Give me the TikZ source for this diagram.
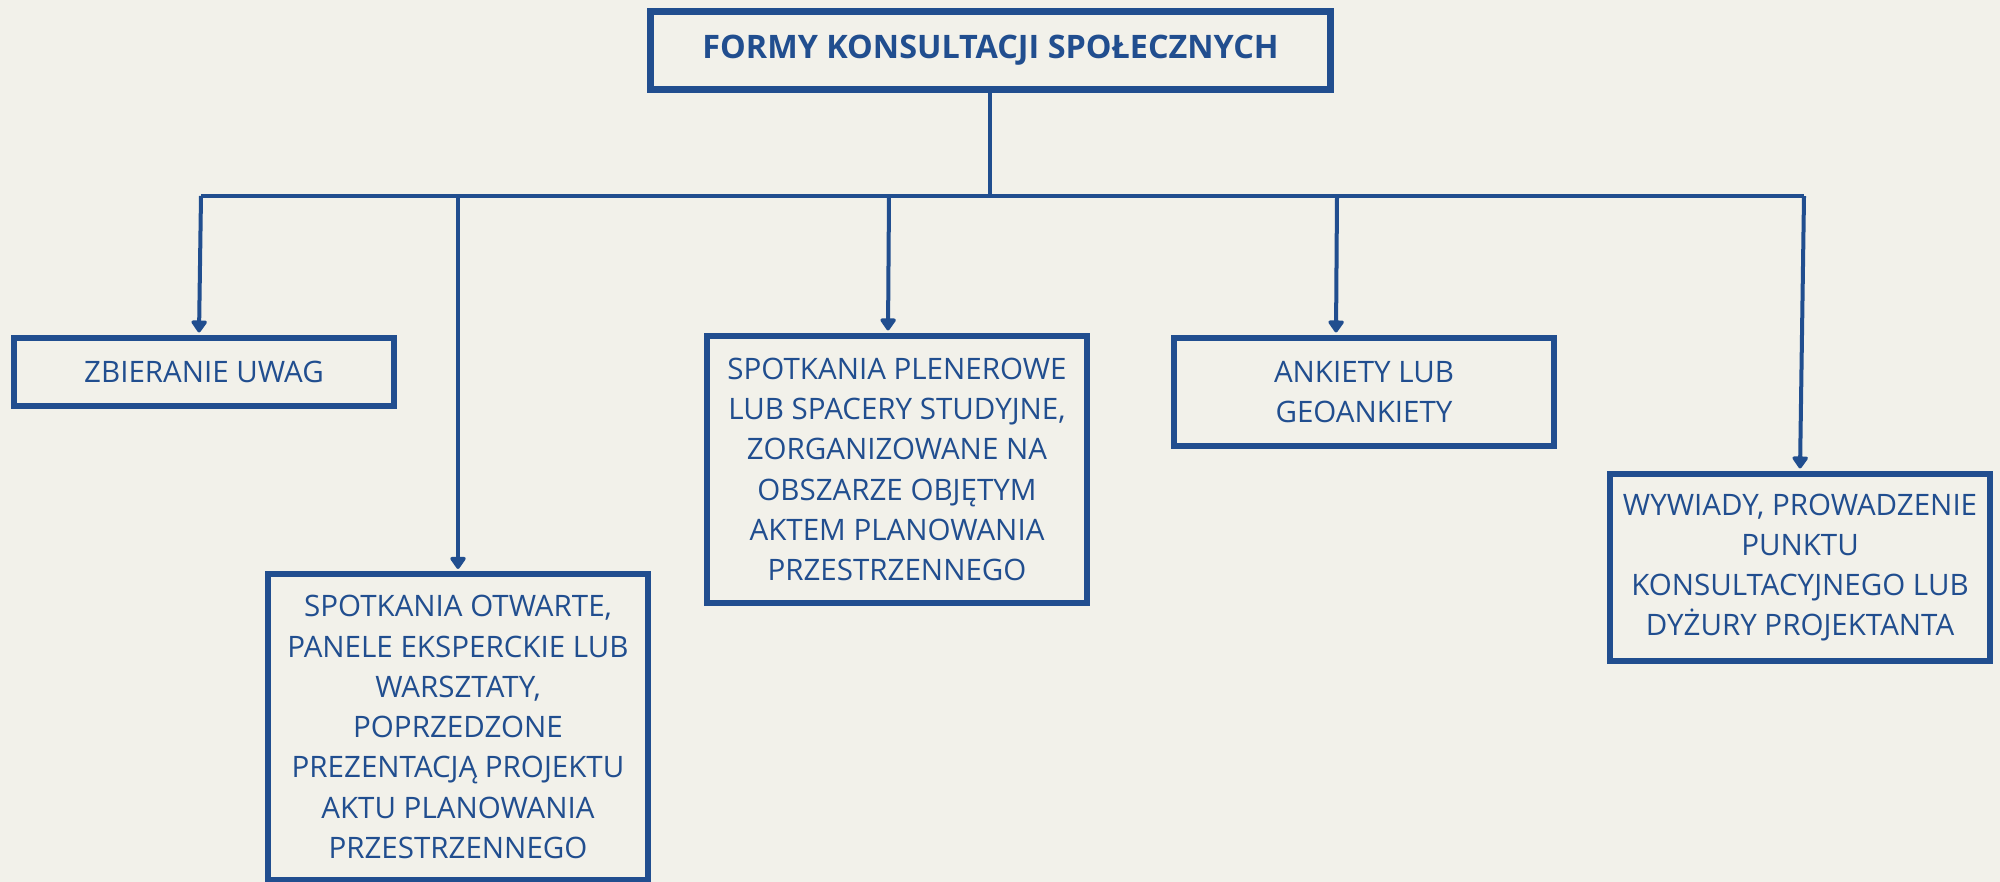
\documentclass[tikz,border=0pt]{standalone}
\usepackage{fontspec}
\setmainfont{Open Sans}
\usetikzlibrary{arrows.meta,calc}
\definecolor{bg}{HTML}{F2F1EA}
\definecolor{navy}{HTML}{214E8F}
\begin{document}
\begin{tikzpicture}[x=0.01cm,y=-0.01cm,
  box/.style={draw=navy,line width=6*0.2845pt,rectangle,inner sep=0pt,text=navy,align=center,
    font=\fontsize{8.4}{11.45}\selectfont},
  titlebox/.style={draw=navy,line width=7*0.2845pt,rectangle,inner sep=0pt,text=navy,align=center,
    font=\fontsize{9.2}{12}\selectfont\bfseries},
  conn/.style={draw=navy,line width=4*0.2845pt},
  arr/.style={conn,-{Triangle[width=5pt,length=3.8pt,round]},shorten >=2.5*0.2845pt}]
\fill[bg] (0,0) rectangle (2000,882);
\useasboundingbox (0,0) rectangle (2000,882);

\node[titlebox,minimum width=680*0.2845pt,minimum height=78*0.2845pt] (t) at (990.5,50.5) {FORMY KONSULTACJI SPOŁECZNYCH};

\node[box,minimum width=380*0.2845pt,minimum height=68*0.2845pt] (b1) at (204,372) {ZBIERANIE UWAG};
\node[box,minimum width=380*0.2845pt,minimum height=305*0.2845pt] (b2) at (458,727) {SPOTKANIA OTWARTE,\\PANELE EKSPERCKIE LUB\\WARSZTATY,\\POPRZEDZONE\\PREZENTACJĄ PROJEKTU\\AKTU PLANOWANIA\\PRZESTRZENNEGO};
\node[box,minimum width=380*0.2845pt,minimum height=267*0.2845pt] (b3) at (897,469.5) {SPOTKANIA PLENEROWE\\LUB SPACERY STUDYJNE,\\ZORGANIZOWANE NA\\OBSZARZE OBJĘTYM\\AKTEM PLANOWANIA\\PRZESTRZENNEGO};
\node[box,minimum width=380*0.2845pt,minimum height=108*0.2845pt] (b4) at (1364,392) {ANKIETY LUB\\GEOANKIETY};
\node[box,minimum width=380*0.2845pt,minimum height=187*0.2845pt] (b5) at (1800,567.5) {WYWIADY, PROWADZENIE\\PUNKTU\\KONSULTACYJNEGO LUB\\DYŻURY PROJEKTANTA};

\coordinate (jt) at (990,196);
\coordinate (j1) at (201,196);
\coordinate (j2) at (458,196);
\coordinate (j3) at (889,196);
\coordinate (j4) at (1337,196);
\coordinate (j5) at (1804,196);

\draw[conn] (t.south -| jt) -- (jt);
\draw[conn] (j1) -- (j5);
\draw[arr] (j1) -- ($(b1.north)+(-5,0)$);
\draw[arr] (j2) -- (b2.north);
\draw[arr] (j3) -- ($(b3.north)+(-9,0)$);
\draw[arr] (j4) -- ($(b4.north)+(-28,0)$);
\draw[arr] (j5) -- (b5.north);
\end{tikzpicture}
\end{document}
